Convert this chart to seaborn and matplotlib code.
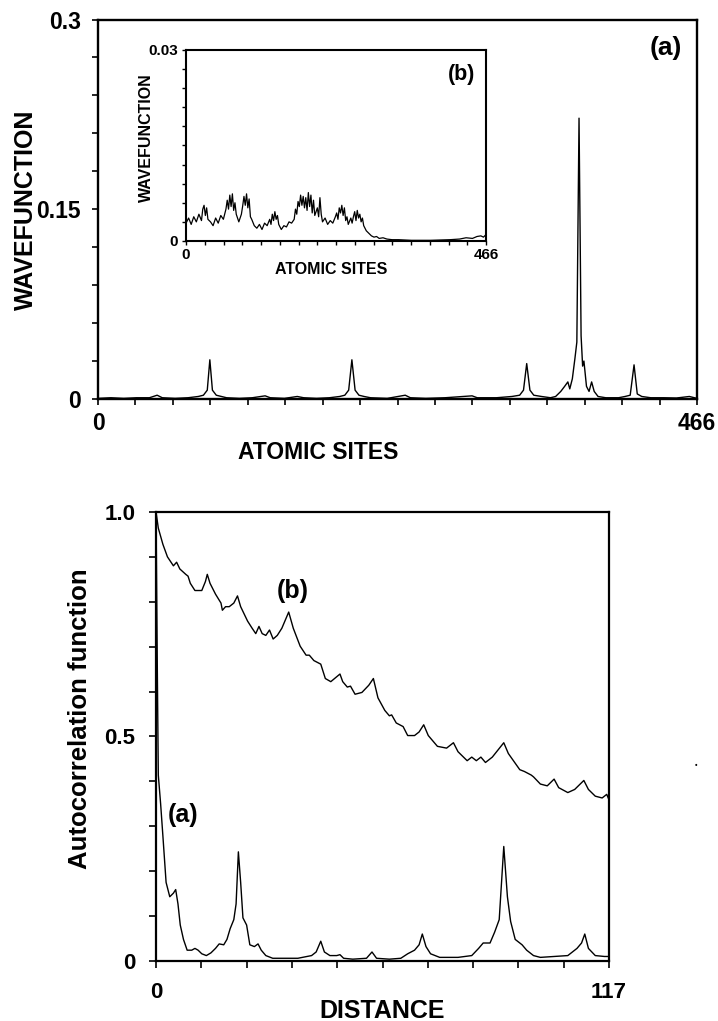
import matplotlib
matplotlib.use("Agg")
import matplotlib.pyplot as plt
import seaborn as sns
import numpy as np
import pandas as pd
from matplotlib.ticker import FixedLocator

# ---------------- data ----------------
# (a) main wavefunction over 466 atomic sites
wf_sites = [0, 10, 20, 30, 40, 46, 50, 60, 70, 78, 82, 85, 87, 89, 92, 96, 100, 110, 120,
            130, 134, 145, 155, 160, 170, 180, 188, 192, 195, 197.5, 200, 203, 207, 212,
            225, 239, 243, 255, 270, 291, 295, 310, 322, 328, 331, 333.5, 336, 339, 345,
            352, 356, 360, 363, 365.5, 367, 369, 371, 372.5, 374.2, 375.8, 377, 378, 380,
            382, 384, 386, 389, 395, 405, 410, 414, 417, 419.5, 423, 430, 440, 450, 460, 466]
wf_values = [0.0005, 0.001, 0.0005, 0.001, 0.001, 0.003, 0.001, 0.0005, 0.001, 0.002, 0.003,
             0.007, 0.031, 0.007, 0.003, 0.002, 0.001, 0.0005, 0.001, 0.0025, 0.001, 0.0005,
             0.002, 0.001, 0.0005, 0.001, 0.002, 0.003, 0.007, 0.031, 0.007, 0.003, 0.002,
             0.001, 0.0005, 0.003, 0.001, 0.0005, 0.001, 0.0025, 0.001, 0.001, 0.002, 0.003,
             0.007, 0.028, 0.007, 0.003, 0.002, 0.001, 0.002, 0.006, 0.010, 0.0135, 0.008,
             0.016, 0.032, 0.045, 0.222, 0.050, 0.026, 0.030, 0.010, 0.006, 0.0135, 0.006,
             0.002, 0.001, 0.001, 0.002, 0.003, 0.027, 0.004, 0.002, 0.001, 0.001, 0.0008,
             0.002, 0.0005]

# (b) inset wavefunction (values in units of 1e-3)
inset_sites = [0, 4, 8, 12, 16, 20, 24, 26, 28, 30, 32, 34, 38, 42, 46, 50, 54, 58, 62, 64,
               66, 68, 70, 72, 74, 76, 78, 82, 86, 88, 90, 92, 94, 96, 98, 100, 102, 106, 110,
               114, 118, 122, 126, 130, 132, 134, 136, 138, 140, 142, 144, 148, 152, 156, 160,
               164, 168, 170, 172, 174, 176, 178, 180, 182, 184, 186, 188, 190, 192, 194, 196,
               198, 200, 204, 206, 208, 210, 212, 216, 220, 224, 228, 232, 234, 236, 238, 240,
               242, 244, 246, 248, 250, 252, 256, 258, 260, 262, 264, 266, 268, 270, 272, 274,
               276, 280, 284, 288, 292, 296, 300, 306, 312, 320, 330, 350, 380, 410, 425, 435,
               445, 452, 458, 462, 466]
inset_milli = [2.8, 3.6, 2.6, 3.8, 3.0, 4.2, 3.2, 5.0, 5.6, 4.0, 5.2, 3.4, 3.0, 2.4, 3.6, 2.8,
               4.0, 3.4, 5.0, 6.4, 5.0, 7.2, 5.4, 7.4, 4.8, 6.0, 4.2, 3.0, 4.2, 5.5, 7.0, 5.6,
               7.4, 5.2, 6.6, 3.8, 3.4, 2.4, 2.0, 2.6, 1.8, 2.8, 2.4, 3.4, 2.6, 4.2, 3.2, 4.6,
               3.4, 4.0, 2.6, 1.8, 2.4, 2.2, 3.0, 2.8, 3.4, 5.0, 4.2, 6.2, 5.4, 7.2, 5.6, 7.0,
               5.2, 6.8, 4.8, 7.6, 5.4, 7.2, 4.4, 6.4, 4.0, 5.2, 3.8, 6.8, 4.2, 3.0, 3.6, 2.6,
               3.2, 2.8, 3.8, 4.4, 3.4, 5.2, 4.4, 5.6, 4.0, 5.2, 3.2, 3.8, 2.6, 3.6, 2.8, 3.8,
               4.6, 3.2, 4.8, 3.6, 4.2, 3.0, 3.6, 2.4, 1.6, 1.2, 0.8, 0.6, 0.7, 0.4, 0.5, 0.3,
               0.2, 0.2, 0.1, 0.1, 0.2, 0.3, 0.5, 0.4, 0.7, 0.8, 0.6, 1.0]

# autocorrelation curves
ac_b_dist = [0, 0.59, 1.77, 2.95, 4.49, 5.32, 6.15, 7.68, 8.27, 8.86, 10.05, 11.82, 12.76,
             13.24, 13.95, 15.36, 16.78, 17.14, 17.96, 18.91, 20.09, 21.04, 21.86, 23.64,
             24.82, 25.76, 26.59, 27.42, 28.36, 29.31, 30.25, 31.32, 32.50, 34.27, 35.45,
             37.23, 38.76, 39.59, 40.77, 42.55, 43.73, 45.14, 47.51, 48.22, 49.40, 50.23,
             51.41, 53.18, 54.95, 56.14, 57.32, 59.09, 60.27, 60.86, 62.05, 63.82, 65.0,
             66.77, 67.95, 69.14, 70.32, 72.68, 75.05, 76.82, 78.0, 80.36, 81.55, 82.73,
             83.91, 85.09, 86.86, 89.82, 91.0, 93.95, 95.14, 96.91, 97.5, 99.27, 101.05,
             102.82, 104.0, 106.36, 108.14, 110.5, 111.68, 113.45, 115.23, 116.41, 117.0]
ac_b_vals = [1.0, 0.964, 0.928, 0.900, 0.880, 0.888, 0.873, 0.861, 0.857, 0.841, 0.825,
             0.825, 0.845, 0.861, 0.841, 0.817, 0.797, 0.781, 0.789, 0.789, 0.797, 0.813,
             0.789, 0.757, 0.741, 0.729, 0.745, 0.729, 0.725, 0.737, 0.717, 0.725, 0.741,
             0.777, 0.741, 0.701, 0.681, 0.681, 0.669, 0.661, 0.629, 0.622, 0.639, 0.622,
             0.610, 0.612, 0.594, 0.598, 0.614, 0.629, 0.586, 0.558, 0.546, 0.548, 0.530,
             0.522, 0.502, 0.502, 0.510, 0.526, 0.502, 0.478, 0.474, 0.486, 0.466, 0.446,
             0.454, 0.446, 0.454, 0.442, 0.454, 0.486, 0.462, 0.426, 0.422, 0.414, 0.410,
             0.394, 0.390, 0.405, 0.386, 0.375, 0.382, 0.402, 0.382, 0.367, 0.363, 0.371,
             0.359]

ac_a_dist = [0, 0.35, 0.59, 1.18, 1.77, 2.60, 3.55, 4.49, 5.08, 5.67, 6.26, 7.09, 8.04,
             9.22, 10.05, 10.87, 11.82, 13.0, 14.18, 15.36, 16.31, 17.49, 18.32, 19.15,
             20.09, 20.68, 21.27, 21.86, 22.45, 23.40, 24.23, 25.41, 26.35, 27.18, 28.36,
             30.14, 33.09, 36.64, 40.18, 41.36, 42.55, 43.49, 44.91, 46.68, 47.51, 48.45,
             50.82, 54.36, 55.78, 56.96, 60.27, 63.23, 65.0, 66.77, 67.95, 68.78, 69.73,
             70.91, 73.27, 78.0, 81.55, 83.32, 84.5, 86.27, 87.45, 88.64, 89.82, 90.76,
             91.59, 92.77, 94.55, 95.73, 97.5, 99.27, 102.82, 106.36, 108.73, 109.91,
             110.74, 111.68, 113.45, 115.82, 117.0]
ac_a_vals = [1.0, 0.637, 0.414, 0.351, 0.279, 0.175, 0.143, 0.151, 0.159, 0.127, 0.080,
             0.048, 0.024, 0.024, 0.028, 0.024, 0.016, 0.012, 0.018, 0.028, 0.038, 0.036,
             0.048, 0.072, 0.092, 0.127, 0.243, 0.175, 0.096, 0.080, 0.036, 0.032, 0.038,
             0.024, 0.012, 0.006, 0.006, 0.006, 0.012, 0.020, 0.044, 0.020, 0.012, 0.012,
             0.014, 0.006, 0.004, 0.006, 0.020, 0.006, 0.004, 0.006, 0.016, 0.024, 0.036,
             0.060, 0.032, 0.016, 0.008, 0.008, 0.012, 0.028, 0.040, 0.040, 0.064, 0.092,
             0.255, 0.143, 0.088, 0.048, 0.036, 0.024, 0.012, 0.008, 0.010, 0.012, 0.028,
             0.040, 0.060, 0.028, 0.012, 0.010, 0.010]

# tick labels
top_xticks = [0, 466]
top_yticks = [0, 0.15, 0.3]
top_ytick_labels = ["0", "0.15", "0.3"]
inset_yticks = [0, 0.03]
inset_ytick_labels = ["0", "0.03"]
bot_xticks = [0, 117]
bot_yticks = [0, 0.5, 1.0]
bot_ytick_labels = ["0", "0.5", "1.0"]

# ---------------- style ----------------
sns.set_style("ticks")
plt.rcParams["font.family"] = ["Liberation Sans", "DejaVu Sans"]
plt.rcParams["font.weight"] = "bold"
plt.rcParams["axes.labelweight"] = "bold"
for key in ["text.color", "axes.labelcolor", "xtick.color", "ytick.color", "axes.edgecolor"]:
    plt.rcParams[key] = "black"

fig = plt.figure(figsize=(7.18, 10.21), dpi=100)
ax1 = fig.add_axes([0.1365, 0.6092, 0.8343, 0.3717])
axi = fig.add_axes([0.2591, 0.7640, 0.4178, 0.1871])
ax2 = fig.add_axes([0.2173, 0.0588, 0.6309, 0.4398])

df_wf = pd.DataFrame({"site": wf_sites, "psi": wf_values})
df_in = pd.DataFrame({"site": inset_sites, "psi": np.array(inset_milli) / 1000.0})
df_a = pd.DataFrame({"d": ac_a_dist, "c": ac_a_vals})
df_b = pd.DataFrame({"d": ac_b_dist, "c": ac_b_vals})

sns.lineplot(data=df_wf, x="site", y="psi", ax=ax1, color="black", linewidth=1.0)
sns.lineplot(data=df_in, x="site", y="psi", ax=axi, color="black", linewidth=0.9)
sns.lineplot(data=df_b, x="d", y="c", ax=ax2, color="black", linewidth=1.0)
sns.lineplot(data=df_a, x="d", y="c", ax=ax2, color="black", linewidth=1.0)

def style(ax, lw, ticklen, tickw, labelsize, padx, pady):
    for s in ax.spines.values():
        s.set_linewidth(lw)
        s.set_color("black")
    ax.tick_params(which="both", direction="out", length=ticklen, width=tickw,
                   colors="black", labelcolor="black", top=False, right=False)
    ax.tick_params(axis="x", which="major", labelsize=labelsize, pad=padx)
    ax.tick_params(axis="y", which="major", labelsize=labelsize, pad=pady)
    for lab in ax.get_xticklabels() + ax.get_yticklabels():
        lab.set_fontweight("bold")
        lab.set_color("black")

# main panel
ax1.set_xlim(0, 466)
ax1.set_ylim(0, 0.3)
ax1.set_xticks(top_xticks, labels=[str(t) for t in top_xticks])
ax1.set_yticks(top_yticks, labels=top_ytick_labels)
ax1.xaxis.set_minor_locator(FixedLocator(np.linspace(0, 466, 17)))
ax1.yaxis.set_minor_locator(FixedLocator(np.linspace(0, 0.3, 11)))
style(ax1, 1.7, 4.5, 1.2, 16.5, 5, 8)
ax1.set_xlabel("ATOMIC SITES", fontsize=16.5, fontweight="bold", va="center", color="black")
ax1.xaxis.set_label_coords(0.367, -0.1397)
ax1.set_ylabel("WAVEFUNCTION", fontsize=18, fontweight="bold", va="center", color="black")
ax1.yaxis.set_label_coords(-0.120, 0.498)
ax1.text(0.948, 0.925, "(a)", transform=ax1.transAxes, fontsize=19, fontweight="bold",
         ha="center", va="center", color="black")

# inset
axi.set_xlim(0, 466)
axi.set_ylim(0, 0.03)
axi.set_xticks(top_xticks, labels=[str(t) for t in top_xticks])
axi.set_yticks(inset_yticks, labels=inset_ytick_labels)
axi.xaxis.set_minor_locator(FixedLocator(np.linspace(0, 466, 17)))
axi.yaxis.set_minor_locator(FixedLocator(np.linspace(0, 0.03, 11)))
style(axi, 1.5, 3, 1.0, 11, 2, 3)
axi.set_xlabel("ATOMIC SITES", fontsize=11.5, fontweight="bold", va="center", color="black")
axi.xaxis.set_label_coords(0.483, -0.152)
axi.set_ylabel("WAVEFUNCTION", fontsize=11.5, fontweight="bold", va="center", color="black")
axi.yaxis.set_label_coords(-0.133, 0.539)
axi.text(0.917, 0.87, "(b)", transform=axi.transAxes, fontsize=15.5, fontweight="bold",
         ha="center", va="center", color="black")

# bottom panel
ax2.set_xlim(0, 117)
ax2.set_ylim(0, 1.0)
ax2.set_xticks(bot_xticks, labels=[str(t) for t in bot_xticks])
ax2.set_yticks(bot_yticks, labels=bot_ytick_labels)
ax2.xaxis.set_minor_locator(FixedLocator(np.linspace(0, 117, 11)))
ax2.yaxis.set_minor_locator(FixedLocator(np.linspace(0, 1.0, 11)))
style(ax2, 1.6, 5, 1.2, 16, 10, 10)
ax2.set_xlabel("DISTANCE", fontsize=18, fontweight="bold", va="center", color="black")
ax2.xaxis.set_label_coords(0.5, -0.111)
ax2.set_ylabel("Autocorrelation function", fontsize=18.5, fontweight="bold", va="center",
               color="black")
ax2.yaxis.set_label_coords(-0.168, 0.539)
ax2.text(35.4, 0.824, "(b)", fontsize=18, fontweight="bold", ha="center", va="center",
         color="black")
ax2.text(7.0, 0.325, "(a)", fontsize=18, fontweight="bold", ha="center", va="center",
         color="black")

fig.text(696 / 718, 1 - 765 / 1021, "\u2022", fontsize=5, ha="center", va="center",
         color="black")

fig.savefig("out.png", dpi=100)
